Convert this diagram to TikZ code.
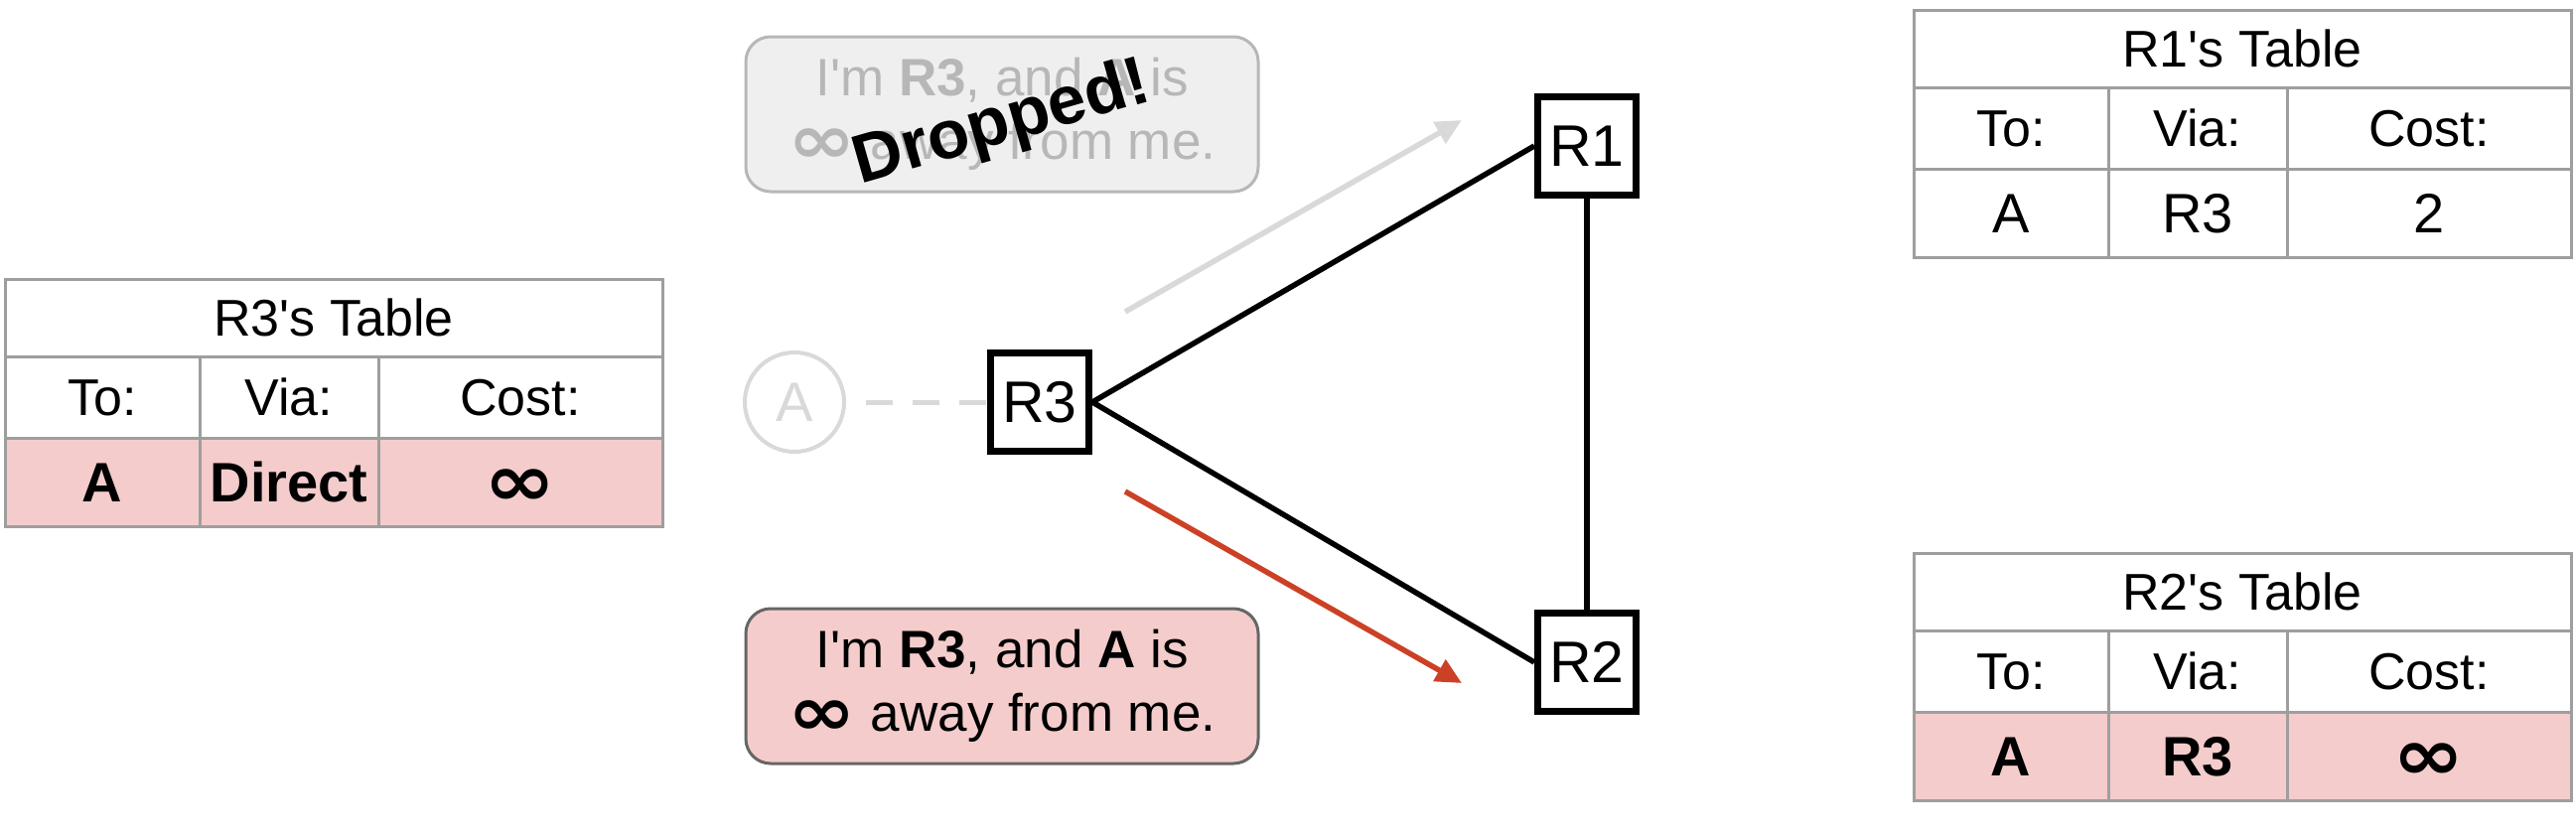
\documentclass[tikz,border=0pt]{standalone}
\usepackage{fontspec}
\usepackage{graphicx}
\setmainfont{Liberation Sans}
\newfontfamily\symfont{DejaVu Sans}
\usetikzlibrary{arrows.meta}
\definecolor{pinkfill}{HTML}{F4CCCC}
\definecolor{tabline}{HTML}{9E9E9E}
\definecolor{faint}{HTML}{D9D9D9}
\definecolor{msggray}{HTML}{EFEFEF}
\definecolor{msgtext}{HTML}{B7B7B7}
\definecolor{redline}{HTML}{CC4125}
\definecolor{boxedge}{HTML}{666666}
\newcommand{\infsym}{\raisebox{-0.07em}{\scalebox{1.55}[1.3]{\symfont\bfseries ∞}}}
\newcommand{\apos}{\textquotesingle}
\tikzset{
  cell/.style={draw=tabline, line width=3, inner sep=0, outer sep=0, anchor=north west,
    text height=37, text depth=0, font=\fontsize{52}{60}\selectfont},
  datacell/.style={cell, text height=40, font=\fontsize{56}{64}\selectfont},
  router/.style={draw, line width=7, minimum size=99, inner sep=0, font=\fontsize{59}{68}\selectfont},
  link/.style={line width=5.5},
  msgbox/.style={rounded corners=25, minimum width=516, minimum height=156, line width=3,
    align=center, font=\fontsize{53}{64}\selectfont},
  msgarrow/.style={line width=5.5, -{Triangle[length=26,width=24]}},
}
% #1 name, #2 x, #3 y, #4 title, #5 data fill, #6 to, #7 via, #8 cost
\newcommand{\rtab}[8]{%
  \node[cell, minimum width=662, minimum height=78] (#1title) at (#2,#3) {#4};
  \node[cell, minimum width=196, minimum height=82] (#1to) at (#1title.south west) {To:};
  \node[cell, minimum width=180, minimum height=82] (#1via) at (#1to.north east) {Via:};
  \node[cell, minimum width=286, minimum height=82] (#1cost) at (#1via.north east) {Cost:};
  \node[datacell, fill=#5, minimum width=196, minimum height=89] (#1a) at (#1to.south west) {#6};
  \node[datacell, fill=#5, minimum width=180, minimum height=89] (#1b) at (#1a.north east) {#7};
  \node[datacell, fill=#5, minimum width=286, minimum height=89] (#1c) at (#1b.north east) {#8};
}
\begin{document}
\begin{tikzpicture}[x=1pt,y=-1pt]
\useasboundingbox (0,0) rectangle (2594,838);

% tables
\rtab{t3}{5}{281}{R3\apos s Table}{pinkfill}{\textbf{A}}{\textbf{Direct}}{\infsym}
\rtab{t1}{1927}{10}{R1\apos s Table}{white}{A}{R3}{2}
\rtab{t2}{1927}{557}{R2\apos s Table}{pinkfill}{\textbf{A}}{\textbf{R3}}{\infsym}

% routers and host
\node[router] (R3) at (1047,405) {R3};
\node[router] (R1) at (1598,147) {R1};
\node[router] (R2) at (1598,667) {R2};
\node[circle, draw=faint, line width=4, minimum size=100, inner sep=0, text=faint,
  font=\fontsize{56}{66}\selectfont] (A) at (800,405) {A};

% links
\draw[link] (R3.east) -- (R1.west);
\draw[link] (R3.east) -- (R2.west);
\draw[link] (R1.south) -- (R2.north);
\draw[faint, line width=5, dash pattern=on 27 off 20, shorten <=20] (A.east) -- (R3.west);

% message arrows
\coordinate (g0) at (1133,314);
\coordinate (g1) at (1472,121);
\coordinate (r0) at (1133,495);
\coordinate (r1) at (1472,688);
\draw[msgarrow, faint] (g0) -- (g1);
\draw[msgarrow, redline] (r0) -- (r1);

% message boxes
\node[msgbox, fill=msggray, draw=msgtext, text=msgtext] (mgray) at (1009,115)
  {I\apos m \textbf{R3}, and \textbf{A} is\\\infsym{} away from me.};
\node[msgbox, fill=pinkfill, draw=boxedge] (mred) at (1009,691)
  {I\apos m \textbf{R3}, and \textbf{A} is\\\infsym{} away from me.};
\node[font=\bfseries\fontsize{69}{80}\selectfont, rotate=16, inner sep=0] (drop) at (1009,126) {Dropped!};
\end{tikzpicture}
\end{document}
